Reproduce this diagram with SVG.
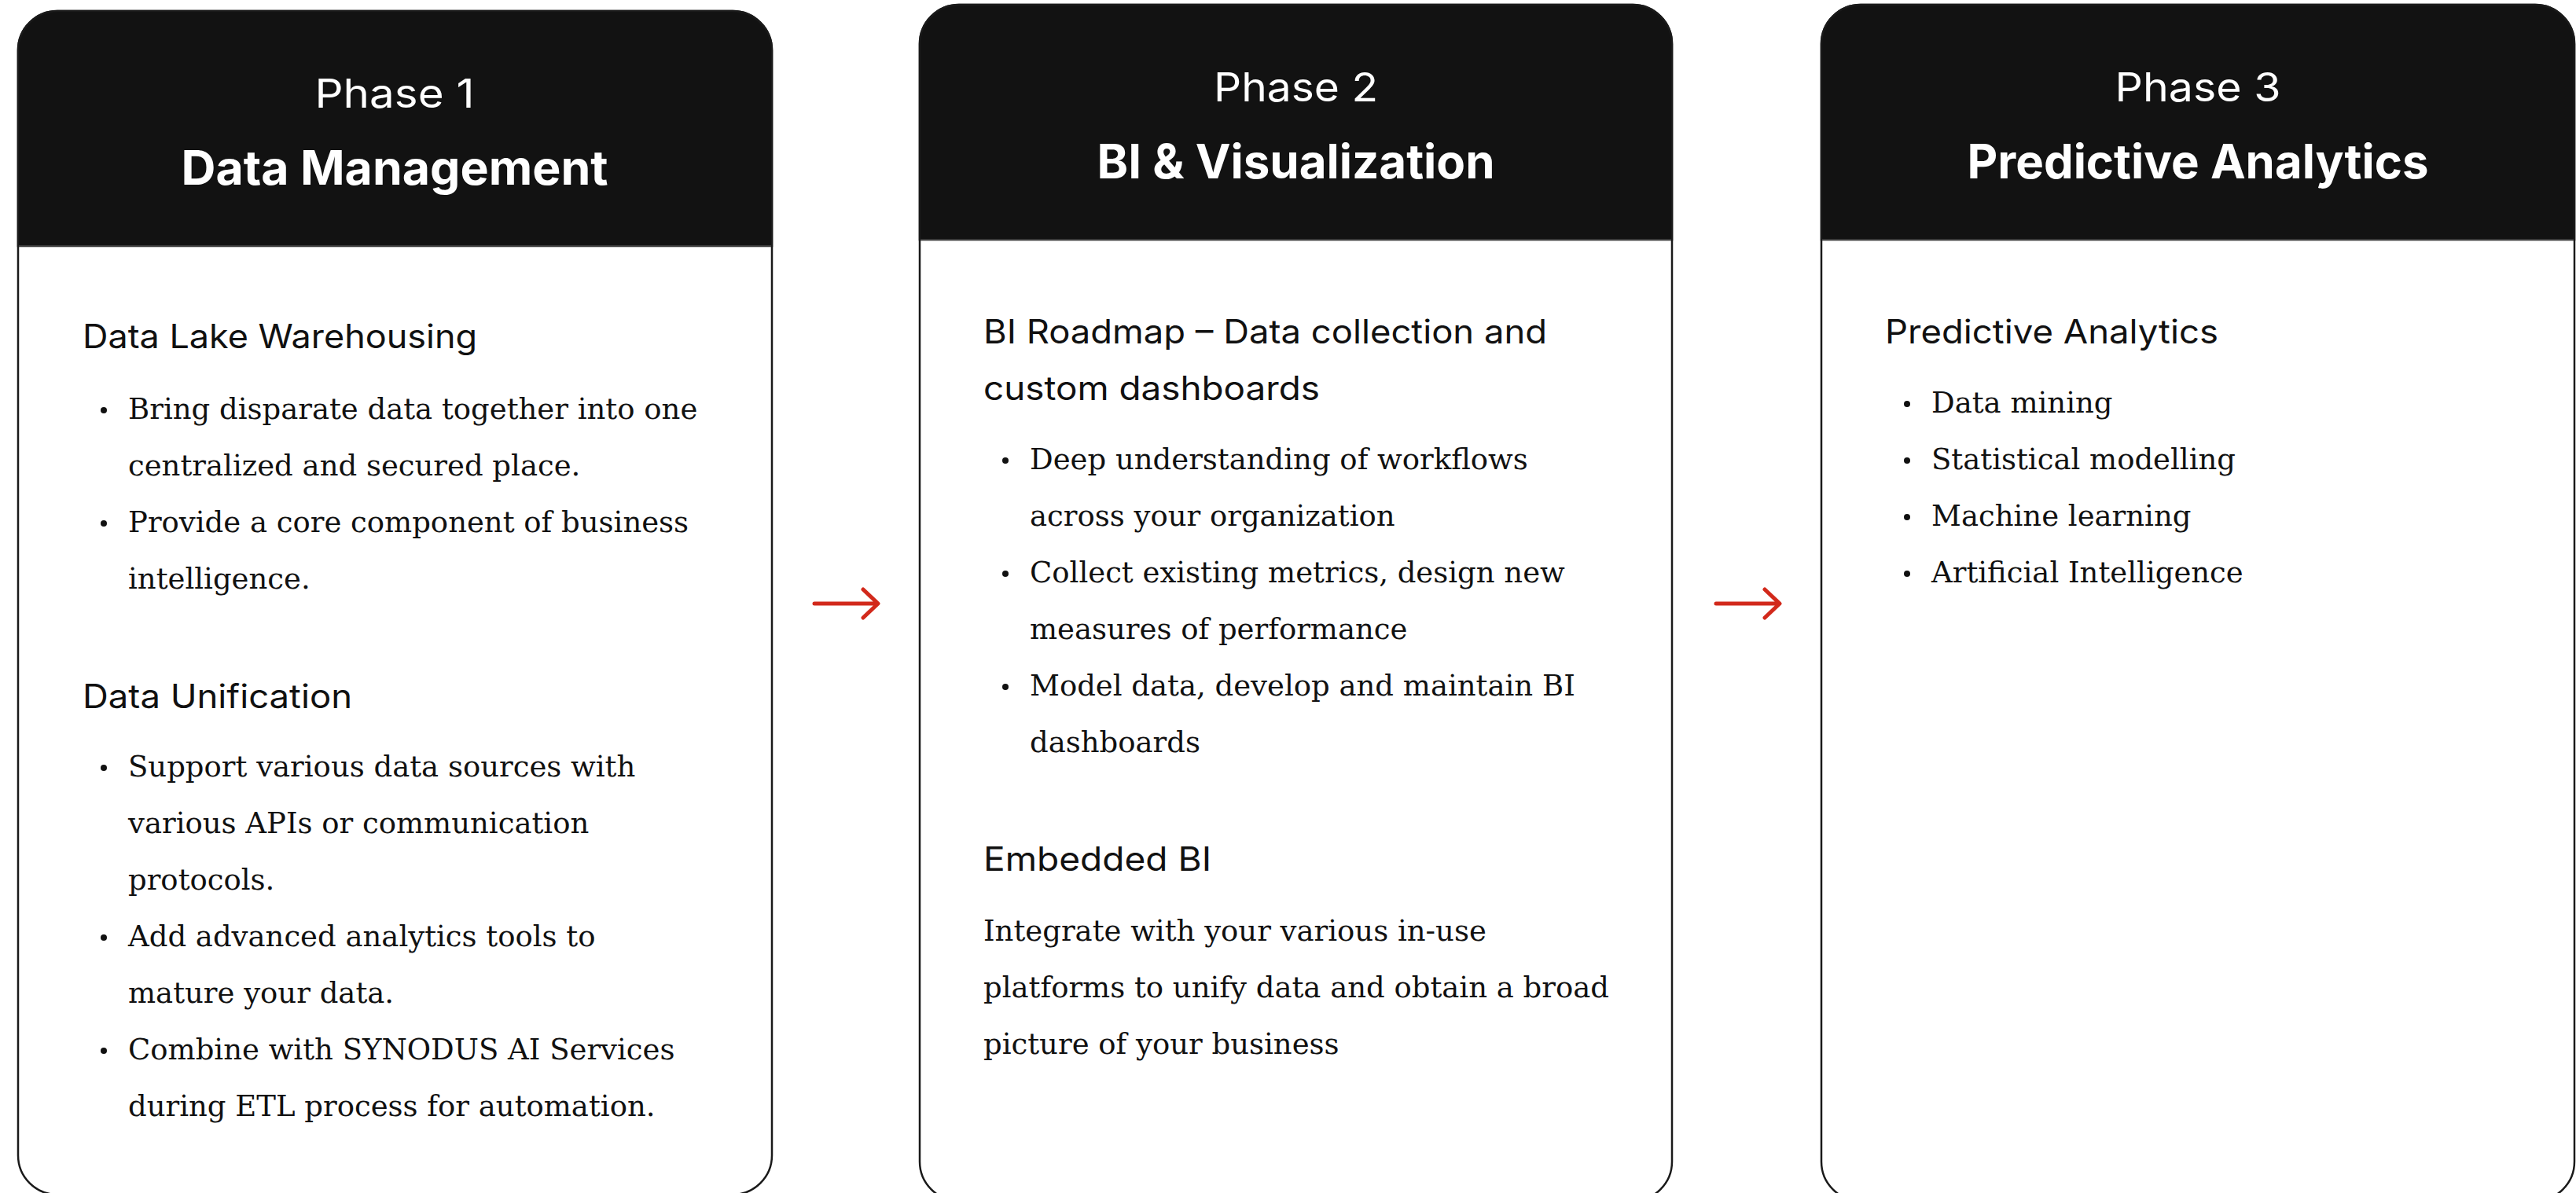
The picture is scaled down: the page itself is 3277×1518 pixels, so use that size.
<svg xmlns="http://www.w3.org/2000/svg" width="3277" height="1518" viewBox="0 0 3277 1518">
<style>
.card{fill:#ffffff;stroke:#1a1a1a;stroke-width:2.5}
.head{fill:#121212}
.sep{stroke:#3a3a3a;stroke-width:2}
.phase{font-family:Inter,"Liberation Sans",sans-serif;font-size:51px;fill:#ffffff;text-anchor:middle}
.title{font-family:Inter,"Liberation Sans",sans-serif;font-size:60px;font-weight:700;fill:#ffffff;text-anchor:middle}
.h{font-family:Inter,"Liberation Sans",sans-serif;font-size:42px;fill:#111111}
.t{font-family:"DejaVu Serif","Liberation Serif",serif;font-size:37px;fill:#111111}
.dot{fill:#111111}
.arrow{fill:none;stroke:#d2291b;stroke-width:5;stroke-linecap:round;stroke-linejoin:round}
</style>
<rect width="3277" height="1518" fill="#ffffff"/>

<g id="phase1">
<path class="card" d="M23,64 A50,50 0 0 1 73,14 H932 A50,50 0 0 1 982,64 V1470 A50,50 0 0 1 932,1520 H73 A50,50 0 0 1 23,1470 Z"/>
<path class="head" d="M23,313 V64 A50,50 0 0 1 73,14 H932 A50,50 0 0 1 982,64 V313 Z" stroke="#1a1a1a" stroke-width="2.5"/>
<line class="sep" x1="24" y1="313" x2="981" y2="313"/>
<text class="phase" x="502" y="137" textLength="203" lengthAdjust="spacingAndGlyphs">Phase 1</text>
<text class="title" x="502" y="235" textLength="543" lengthAdjust="spacingAndGlyphs">Data Management</text>
<text class="h" x="105" y="443" textLength="502" lengthAdjust="spacingAndGlyphs">Data Lake Warehousing</text>
<circle class="dot" cx="132" cy="522" r="4"/>
<text class="t" x="163" y="533">Bring disparate data together into one</text>
<text class="t" x="163" y="605">centralized and secured place.</text>
<circle class="dot" cx="132" cy="666" r="4"/>
<text class="t" x="163" y="677">Provide a core component of business</text>
<text class="t" x="163" y="749">intelligence.</text>
<text class="h" x="105" y="901" textLength="343" lengthAdjust="spacingAndGlyphs">Data Unification</text>
<circle class="dot" cx="132" cy="977" r="4"/>
<text class="t" x="163" y="988">Support various data sources with</text>
<text class="t" x="163" y="1060">various APIs or communication</text>
<text class="t" x="163" y="1132">protocols.</text>
<circle class="dot" cx="132" cy="1193" r="4"/>
<text class="t" x="163" y="1204">Add advanced analytics tools to</text>
<text class="t" x="163" y="1276">mature your data.</text>
<circle class="dot" cx="132" cy="1337" r="4"/>
<text class="t" x="163" y="1348">Combine with SYNODUS AI Services</text>
<text class="t" x="163" y="1420">during ETL process for automation.</text>
</g>

<g id="phase2">
<path class="card" d="M1170,56 A50,50 0 0 1 1220,6 H2077 A50,50 0 0 1 2127,56 V1478 A50,50 0 0 1 2077,1528 H1220 A50,50 0 0 1 1170,1478 Z"/>
<path class="head" d="M1170,305 V56 A50,50 0 0 1 1220,6 H2077 A50,50 0 0 1 2127,56 V305 Z" stroke="#1a1a1a" stroke-width="2.5"/>
<line class="sep" x1="1171" y1="305" x2="2126" y2="305"/>
<text class="phase" x="1648.5" y="129" textLength="209" lengthAdjust="spacingAndGlyphs">Phase 2</text>
<text class="title" x="1648.5" y="227" textLength="506" lengthAdjust="spacingAndGlyphs">BI &amp; Visualization</text>
<text class="h" x="1251" y="437" textLength="717" lengthAdjust="spacingAndGlyphs">BI Roadmap – Data collection and</text>
<text class="h" x="1251" y="509" textLength="428" lengthAdjust="spacingAndGlyphs">custom dashboards</text>
<circle class="dot" cx="1279" cy="586" r="4"/>
<text class="t" x="1310" y="597">Deep understanding of workflows</text>
<text class="t" x="1310" y="669">across your organization</text>
<circle class="dot" cx="1279" cy="730" r="4"/>
<text class="t" x="1310" y="741">Collect existing metrics, design new</text>
<text class="t" x="1310" y="813">measures of performance</text>
<circle class="dot" cx="1279" cy="874" r="4"/>
<text class="t" x="1310" y="885">Model data, develop and maintain BI</text>
<text class="t" x="1310" y="957">dashboards</text>
<text class="h" x="1251" y="1108" textLength="290" lengthAdjust="spacingAndGlyphs">Embedded BI</text>
<text class="t" x="1251" y="1197">Integrate with your various in-use</text>
<text class="t" x="1251" y="1269">platforms to unify data and obtain a broad</text>
<text class="t" x="1251" y="1341">picture of your business</text>
</g>

<g id="phase3">
<path class="card" d="M2317,56 A50,50 0 0 1 2367,6 H3225 A50,50 0 0 1 3275,56 V1478 A50,50 0 0 1 3225,1528 H2367 A50,50 0 0 1 2317,1478 Z"/>
<path class="head" d="M2317,305 V56 A50,50 0 0 1 2367,6 H3225 A50,50 0 0 1 3275,56 V305 Z" stroke="#1a1a1a" stroke-width="2.5"/>
<line class="sep" x1="2318" y1="305" x2="3274" y2="305"/>
<text class="phase" x="2796" y="129" textLength="211" lengthAdjust="spacingAndGlyphs">Phase 3</text>
<text class="title" x="2796" y="227" textLength="587" lengthAdjust="spacingAndGlyphs">Predictive Analytics</text>
<text class="h" x="2398" y="437" textLength="424" lengthAdjust="spacingAndGlyphs">Predictive Analytics</text>
<circle class="dot" cx="2426" cy="514" r="4"/>
<text class="t" x="2457" y="525">Data mining</text>
<circle class="dot" cx="2426" cy="586" r="4"/>
<text class="t" x="2457" y="597">Statistical modelling</text>
<circle class="dot" cx="2426" cy="658" r="4"/>
<text class="t" x="2457" y="669">Machine learning</text>
<circle class="dot" cx="2426" cy="730" r="4"/>
<text class="t" x="2457" y="741">Artificial Intelligence</text>
</g>

<g id="connectors">
<path class="arrow" d="M1036,768 H1116 M1098,750 L1117,768 L1098,786"/>
<path class="arrow" d="M2183,768 H2263 M2245,750 L2264,768 L2245,786"/>
</g>
</svg>
